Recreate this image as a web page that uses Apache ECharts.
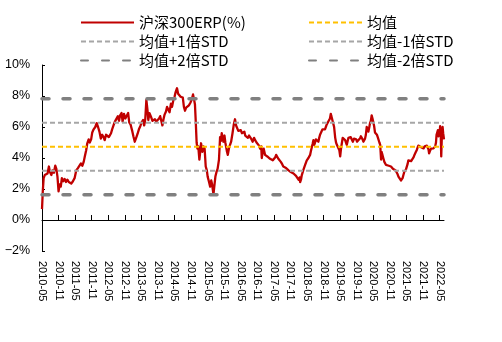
<!DOCTYPE html>
<html>
<head>
<meta charset="utf-8">
<script src="https://cdn.jsdelivr.net/npm/echarts@6/dist/echarts.min.js"></script>
<style>
  html, body { margin: 0; padding: 0; background: #fff; }
  #chart { width: 502px; height: 342px; }
</style>
</head>
<body>
<div id="chart"></div>
<script>
// Time in months since 2010-05, paired with the CSI 300 equity risk premium (%)
const months = [
  0, 0.3, 0.6, 1.0, 1.5, 2.0, 2.5, 2.9, 3.4, 3.8, 4.3, 4.8, 5.2, 5.6, 6.0, 6.4, 6.8, 7.2, 7.7, 8.2,
  8.7, 9.2, 9.7, 10.2, 10.6, 11.2, 11.8, 12.4, 13.0, 13.6, 14.1, 14.6, 15.1, 15.5, 16.0, 16.4, 16.9, 17.3, 17.8, 18.2,
  18.7, 19.3, 19.8, 20.3, 20.8, 21.3, 21.8, 22.3, 22.7, 23.2, 23.7, 24.2, 24.6, 25.0, 25.4, 25.9, 26.4, 26.9, 27.5, 27.9,
  28.3, 28.8, 29.2, 29.7, 30.2, 30.7, 31.2, 31.6, 32.1, 32.6, 33.1, 33.6, 34.1, 34.6, 35.1, 35.6, 36.1, 36.6, 37.0, 37.4,
  37.8, 38.2, 38.5, 38.9, 39.5, 40.0, 40.4, 40.9, 41.4, 41.9, 42.4, 42.8, 43.2, 43.6, 44.0, 44.4, 44.9, 45.3, 45.8, 46.2,
  46.7, 47.1, 47.6, 48.0, 48.4, 48.9, 49.3, 49.8, 50.2, 50.6, 51.0, 51.4, 51.8, 52.2, 52.7, 53.2, 53.7, 54.2, 54.7, 55.1,
  55.4, 55.7, 56.0, 56.3, 56.6, 57.0, 57.3, 57.6, 58.1, 58.5, 58.9, 59.3, 59.7, 60.0, 60.5, 60.9, 61.3, 61.6, 62.1, 62.4,
  62.8, 63.2, 63.6, 64.1, 64.5, 64.8, 65.1, 65.4, 65.7, 66.1, 66.4, 66.7, 67.0, 67.3, 67.8, 68.2, 68.5, 69.0, 69.5, 69.9,
  70.3, 70.7, 71.1, 71.6, 72.0, 72.4, 72.9, 73.3, 73.6, 74.1, 74.6, 75.0, 75.4, 75.9, 76.3, 76.8, 77.2, 77.7, 78.1, 78.6,
  79.0, 79.4, 79.6, 80.0, 80.3, 80.8, 81.2, 81.6, 82.1, 82.6, 83.1, 83.6, 84.1, 84.5, 84.8, 85.2, 85.6, 86.1, 86.5, 87.0,
  87.4, 87.9, 88.4, 88.9, 89.3, 89.7, 90.1, 90.6, 91.1, 91.7, 92.0, 92.3, 92.9, 93.3, 93.5, 93.8, 94.1, 94.4, 94.7, 95.0,
  95.3, 95.6, 95.9, 96.2, 96.5, 96.8, 97.1, 97.4, 97.7, 98.0, 98.3, 98.6, 98.9, 99.2, 99.5, 99.8, 100.1, 100.4, 100.7, 101.0,
  101.3, 101.6, 101.9, 102.2, 102.5, 102.8, 103.1, 103.4, 103.7, 104.0, 104.3, 104.6, 104.8, 105.1, 105.4, 105.8, 106.2, 106.5, 106.8, 107.1,
  107.4, 107.7, 108.0, 108.3, 108.6, 108.9, 109.2, 109.5, 109.8, 110.1, 110.4, 110.7, 111.0, 111.4, 111.8, 112.2, 112.6, 113.0, 113.4, 113.8,
  114.1, 114.4, 114.8, 115.2, 115.5, 115.8, 116.1, 116.4, 116.7, 117.0, 117.3, 117.6, 117.9, 118.2, 118.5, 118.8, 119.1, 119.4, 119.7, 120.0,
  120.3, 120.6, 120.9, 121.3, 121.6, 121.9, 122.2, 122.5, 122.8, 123.0, 123.3, 123.6, 124.0, 124.3, 124.6, 124.9, 125.2, 125.6, 126.1, 126.4,
  126.7, 127.1, 127.7, 128.1, 128.5, 128.8, 129.1, 129.4, 129.7, 130.0, 130.3, 130.6, 130.9, 131.2, 131.5, 131.8, 132.1, 132.4, 132.7, 133.0,
  133.3, 133.7, 134.2, 134.6, 134.9, 135.3, 135.7, 136.0, 136.3, 136.6, 137.0, 137.3, 137.7, 138.2, 138.6, 139.0, 139.4, 139.7, 140.0, 140.2,
  140.5, 140.9, 141.3, 141.8, 142.1, 142.4, 142.7, 142.9, 143.2, 143.4, 143.6, 143.8, 144.0, 144.2, 144.4, 144.6, 144.8, 145.1, 145.3, 145.6
];
const erp = [
  0.7, 1.9, 2.7, 2.9, 2.8, 3.0, 3.45, 3.1, 2.9, 3.2, 3.05, 3.5, 3.3, 2.8, 1.85, 2.3, 2.15, 2.7, 2.5, 2.65,
  2.45, 2.6, 2.45, 2.55, 2.35, 2.5, 2.7, 3.2, 3.35, 3.3, 3.65, 3.5, 3.75, 4.1, 4.5, 4.95, 5.2, 5.0, 5.2, 5.65,
  5.85, 6.0, 6.25, 6.0, 5.7, 5.25, 5.5, 5.35, 5.15, 5.5, 5.6, 5.35, 5.3, 5.6, 5.85, 6.1, 6.35, 6.45, 6.7, 6.4,
  6.75, 6.9, 6.35, 6.85, 6.55, 6.45, 6.9, 6.3, 6.15, 5.8, 5.4, 5.05, 5.3, 5.55, 5.85, 6.05, 6.3, 6.45, 6.1, 6.5,
  7.75, 7.1, 6.45, 6.9, 6.65, 6.4, 6.3, 6.5, 6.35, 6.3, 6.55, 6.7, 6.4, 6.1, 6.5, 6.8, 7.0, 7.3, 7.1, 6.95,
  7.5, 7.3, 7.75, 7.95, 8.25, 8.5, 8.15, 8.2, 7.95, 8.05, 7.9, 7.3, 7.05, 7.25, 7.15, 7.4, 7.55, 7.75, 8.1, 7.75,
  7.45, 6.3, 5.0, 4.6, 4.75, 3.9, 4.4, 4.95, 4.4, 4.75, 4.6, 3.45, 3.2, 2.8, 2.45, 2.15, 2.55, 2.3, 1.65, 2.15,
  2.8, 3.1, 3.3, 3.9, 5.35, 5.1, 5.6, 5.3, 5.05, 5.45, 5.0, 4.7, 4.4, 4.2, 4.7, 4.9, 5.05, 5.6, 6.2, 6.5,
  6.1, 6.2, 5.75, 5.65, 5.8, 5.6, 5.5, 5.7, 5.45, 5.55, 5.3, 5.45, 5.45, 5.2, 5.05, 5.3, 5.15, 5.0, 4.95, 4.8,
  4.6, 4.75, 4.0, 4.45, 4.6, 4.2, 4.3, 4.1, 4.15, 3.95, 4.05, 3.85, 3.8, 4.05, 4.2, 4.1, 3.95, 3.85, 3.75, 3.6,
  3.45, 3.45, 3.35, 3.3, 3.2, 3.2, 3.1, 3.15, 3.0, 3.05, 2.85, 2.8, 2.6, 2.75, 2.45, 2.6, 2.9, 3.0, 3.25, 3.35,
  3.55, 3.7, 3.85, 3.75, 4.0, 4.05, 4.2, 4.45, 4.55, 4.9, 5.15, 4.85, 5.0, 5.2, 5.1, 5.2, 5.05, 5.3, 5.5, 5.4,
  5.6, 5.85, 5.9, 5.75, 5.85, 6.0, 6.15, 6.1, 6.35, 6.4, 6.55, 6.85, 6.7, 6.5, 6.4, 6.0, 5.3, 5.0, 4.85, 4.95,
  4.75, 4.5, 4.1, 4.6, 4.95, 5.3, 5.4, 5.3, 5.15, 5.0, 4.85, 5.1, 5.3, 5.35, 5.35, 5.2, 5.05, 5.25, 5.15, 5.2,
  5.05, 4.95, 5.15, 5.27, 5.4, 5.35, 5.2, 5.05, 5.15, 5.25, 5.5, 6.0, 5.9, 5.7, 5.95, 6.25, 6.4, 6.75, 6.55, 6.3,
  6.05, 5.65, 5.55, 5.5, 5.35, 5.25, 5.0, 4.85, 3.9, 4.4, 4.2, 4.0, 3.75, 3.65, 3.55, 3.6, 3.45, 3.5, 3.55, 3.45,
  3.35, 3.3, 3.25, 3.2, 3.1, 2.95, 2.8, 2.7, 2.75, 2.55, 2.45, 2.7, 2.9, 3.1, 3.2, 3.25, 3.35, 3.6, 3.85, 3.8,
  3.75, 3.8, 3.9, 4.05, 4.2, 4.35, 4.5, 4.65, 4.8, 4.85, 4.75, 4.7, 4.75, 4.62, 4.75, 4.85, 4.8, 4.73, 4.55, 4.3,
  4.45, 4.6, 4.55, 4.62, 4.65, 4.75, 5.0, 5.5, 5.6, 5.8, 5.4, 5.45, 5.6, 6.05, 5.7, 4.1, 5.3, 6.0, 5.6, 5.2
];

// Horizontal reference levels: mean and mean ± 1/2 standard deviations (%)
const refNames  = ['均值+2倍STD', '均值+1倍STD', '均值', '均值-1倍STD', '均值-2倍STD'];
const refLevels = [7.83, 6.28, 4.73, 3.18, 1.63];

// Axis labels
const xTickLabels = [
  '2010-05', '2010-11', '2011-05', '2011-11', '2012-05', '2012-11', '2013-05', '2013-11',
  '2014-05', '2014-11', '2015-05', '2015-11', '2016-05', '2016-11', '2017-05', '2017-11',
  '2018-05', '2018-11', '2019-05', '2019-11', '2020-05', '2020-11', '2021-05', '2021-11', '2022-05'
];
const yTickValues = [-2, 0, 2, 4, 6, 8, 10];
const yTickLabels = ['−2%', '0%', '2%', '4%', '6%', '8%', '10%'];

const seriesName = '沪深300ERP(%)';
const xEnd = 145.6;
const tickStep = 6;
const tickPositions = xTickLabels.map((_, i) => i * tickStep);

const refStyles = {
  '均值+2倍STD': { color: '#808080', width: 3.5, type: [7, 14], cap: 'round' },
  '均值+1倍STD': { color: '#A6A6A6', width: 2, type: [5, 3], cap: 'butt' },
  '均值':        { color: '#FFC000', width: 2, type: [5, 3], cap: 'butt' },
  '均值-1倍STD': { color: '#A6A6A6', width: 2, type: [5, 3], cap: 'butt' },
  '均值-2倍STD': { color: '#808080', width: 3.5, type: [7, 14], cap: 'round' }
};

const chart = echarts.init(document.getElementById('chart'), null, { renderer: 'canvas' });

const labelFont = 'Liberation Sans, Arial, sans-serif';
const legendText = { fontSize: 15, color: '#000', fontFamily: 'Noto Sans CJK SC, sans-serif' };

const series = [{
  name: seriesName,
  type: 'line',
  xAxisIndex: 0,
  symbol: 'none',
  data: months.map((m, i) => [m, erp[i]]),
  lineStyle: { color: '#C00000', width: 2.3, join: 'round' },
  itemStyle: { color: '#C00000' },
  z: 2
}];
refNames.forEach((name, i) => {
  const s = refStyles[name];
  series.push({
    name,
    type: 'line',
    xAxisIndex: 0,
    symbol: 'none',
    data: [[0, refLevels[i]], [xEnd, refLevels[i]]],
    lineStyle: { color: s.color, width: s.width, type: s.type, cap: s.cap },
    itemStyle: { color: s.color },
    z: 3
  });
});

const xBase = {
  type: 'value',
  min: 0,
  max: xEnd,
  interval: tickStep,
  splitLine: { show: false }
};

// Legend items show only the line sample, no marker
const legendCommon = {
  orient: 'vertical', top: 10,
  itemWidth: 53, itemHeight: 14, itemGap: 4,
  textStyle: legendText, selectedMode: false,
  itemStyle: { color: 'rgba(0,0,0,0)', borderWidth: 0, opacity: 0 }
};

chart.setOption({
  animation: false,
  backgroundColor: '#fff',
  grid: { left: 42, right: 58, top: 65, bottom: 91, containLabel: false },
  legend: [
    Object.assign({ data: [seriesName, '均值+1倍STD', '均值+2倍STD'], left: 75 }, legendCommon),
    Object.assign({ data: ['均值', '均值-1倍STD', '均值-2倍STD'], left: 303 }, legendCommon)
  ],
  xAxis: [
    Object.assign({}, xBase, {
      position: 'bottom',
      axisLine: { show: true, onZero: true, lineStyle: { color: '#000', width: 1 } },
      axisTick: { show: true, inside: true, length: 5, customValues: tickPositions,
                  lineStyle: { color: '#000', width: 1 } },
      axisLabel: { show: false }
    }),
    Object.assign({}, xBase, {
      position: 'bottom',
      axisLine: { show: false, onZero: false },
      axisTick: { show: false },
      axisLabel: {
        show: true,
        rotate: -90,
        margin: 10,
        fontSize: 11,
        color: '#000',
        fontFamily: labelFont,
        customValues: tickPositions,
        formatter: v => {
          const k = Math.round(v / tickStep);
          return Math.abs(v - k * tickStep) < 1e-6 && xTickLabels[k] ? xTickLabels[k] : '';
        }
      }
    })
  ],
  yAxis: {
    type: 'value',
    min: -2,
    max: 10,
    interval: 2,
    splitLine: { show: false },
    axisLine: { show: true, lineStyle: { color: '#000', width: 1 } },
    axisTick: { show: true, inside: true, length: 3, lineStyle: { color: '#000' } },
    axisLabel: {
      fontSize: 12.5,
      color: '#000',
      fontFamily: labelFont,
      margin: 12,
      formatter: v => {
        const i = yTickValues.indexOf(v);
        return i >= 0 ? yTickLabels[i] : '';
      }
    }
  },
  series
});
</script>
</body>
</html>
